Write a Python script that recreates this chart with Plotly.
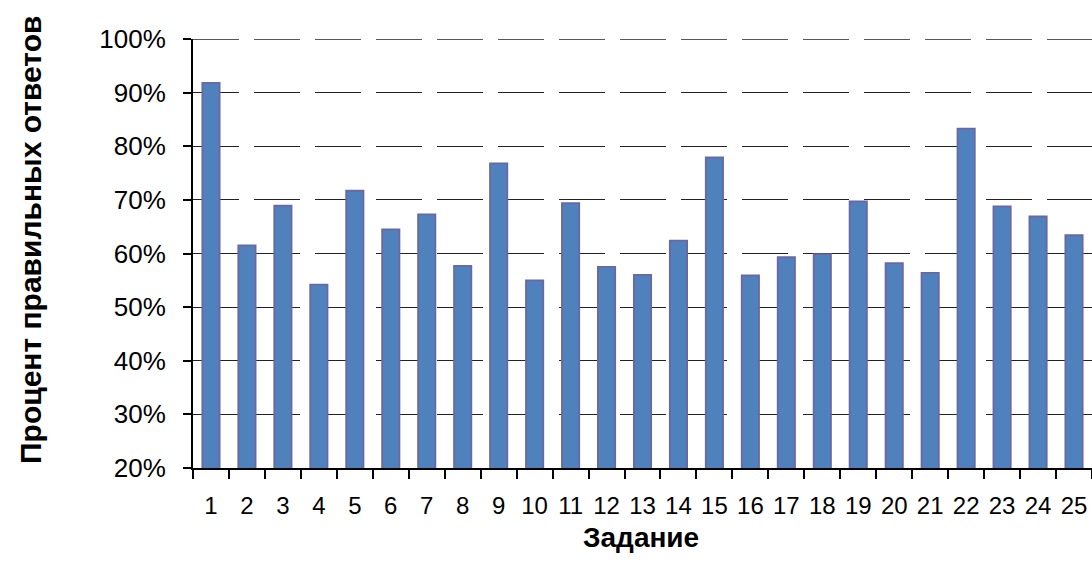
import plotly.graph_objects as go

tasks = [str(i) for i in range(1, 26)]
percent_correct = [91.8, 61.5, 68.9, 54.2, 71.7, 64.5, 67.3, 57.7, 76.8, 55.0,
                   69.4, 57.5, 56.0, 62.4, 77.9, 55.9, 59.3, 59.9, 69.7, 58.2,
                   56.4, 83.3, 68.8, 66.9, 63.4]
values = [v / 100 for v in percent_correct]
y_ticks = [0.2, 0.3, 0.4, 0.5, 0.6, 0.7, 0.8, 0.9, 1.0]

y_title = "Процент правильных ответов"
x_title = "Задание"

FONT = "Liberation Sans, Arial, sans-serif"
GRID = "#222222"
DASH = "46px,15px"

fig = go.Figure(go.Bar(
    x=tasks, y=values,
    width=0.48,
    marker=dict(color="#4f81bd", line=dict(color="#6a68a4", width=1.8)),
))

fig.update_layout(
    width=1092, height=572,
    margin=dict(l=193, r=0, t=39, b=104),
    plot_bgcolor="white", paper_bgcolor="white",
    showlegend=False,
    font=dict(family=FONT, color="black", size=26),
)

# top gridline (at the plot edge)
fig.add_shape(type="line", xref="paper", yref="y", x0=0, x1=1, y0=y_ticks[-1], y1=y_ticks[-1],
              line=dict(color=GRID, width=1.3, dash=DASH), layer="below")

fig.update_xaxes(
    type="category", range=[-0.5, 24.5],
    automargin=False,
    showgrid=False,
    showline=True, linecolor="black", linewidth=2,
    ticks="outside", ticklen=9, tickwidth=2, tickcolor="black",
    tickson="boundaries",
    tickangle=0,
    ticklabelstandoff=15,
    tickfont=dict(size=24, family=FONT),
)

fig.update_yaxes(
    range=[0.2, 1.0],
    automargin=False,
    tickvals=y_ticks,
    tickformat=".0%",
    showgrid=True, gridcolor=GRID, gridwidth=1.3, griddash=DASH,
    showline=True, linecolor="black", linewidth=2,
    ticks="outside", ticklen=8, tickwidth=2, tickcolor="black",
    ticklabelstandoff=12,
    tickfont=dict(size=26, family=FONT),
    zeroline=False,
)

fig.add_annotation(text=f"<b>{y_title}</b>", xref="paper", yref="paper",
                   x=-(193 - 30) / 899, y=(572 - 104 - 240) / 429,
                   textangle=-90, showarrow=False,
                   font=dict(size=30, family=FONT, color="black"),
                   xanchor="center", yanchor="middle")
fig.add_annotation(text=f"<b>{x_title}</b>", xref="paper", yref="paper",
                   x=(641 - 193) / 899, y=-(537 - 468) / 429,
                   showarrow=False,
                   font=dict(size=28, family=FONT, color="black"),
                   xanchor="center", yanchor="middle")

fig.write_html("out.html",
               config={"displayModeBar": False},
               post_script="document.body.style.margin='0';document.body.style.overflow='hidden';")
